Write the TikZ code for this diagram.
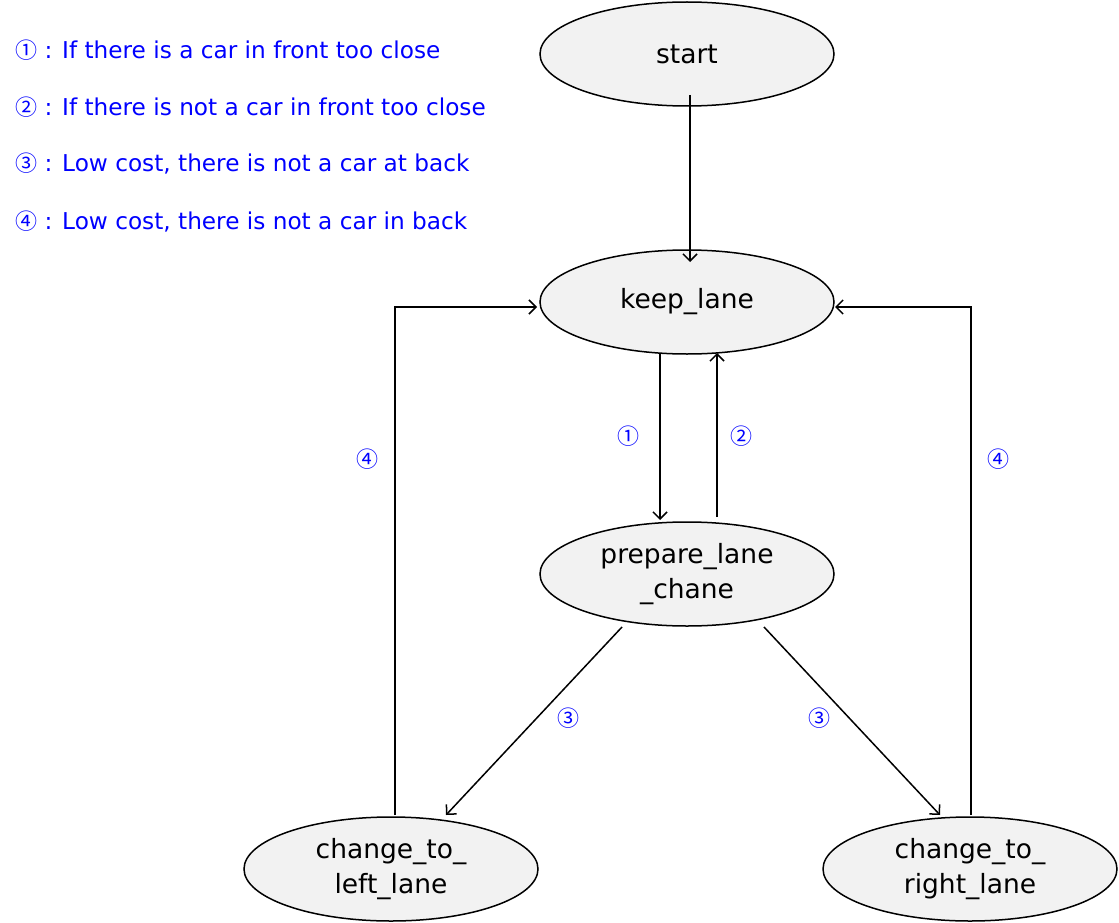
\documentclass[tikz,border=0pt]{standalone}
\usepackage{fontspec}
\setmainfont{DejaVu Sans}
\newfontfamily\circfont{Noto Sans CJK KR}
\usetikzlibrary{shapes.geometric,arrows.meta}
\begin{document}
\begin{tikzpicture}[x=1pt,y=-1pt,
  state/.style={ellipse,draw=black,line width=1.5pt,fill=black!5,minimum width=294pt,minimum height=104pt,inner sep=0pt,align=center,font=\fontsize{26.5}{35}\selectfont},
  conn/.style={line width=1.5pt,-{Straight Barb[length=7pt,width=14pt,line width=1.5pt]}},
  lbl/.style={text=blue,font=\circfont\fontsize{22}{25}\selectfont},
  legend/.style={text=blue,anchor=west,inner sep=0pt,font=\fontsize{23.2}{26}\selectfont}]
\useasboundingbox (0,0) rectangle (1119,923);
\node[state] (start) at (687,54) {start};
\node[state] (keep) at (687,302) {keep\_lane};
\node[state] (prep) at (687,574) {prepare\_lane\\\_chane};
\node[state] (left) at (391,869) {change\_to\_\\left\_lane};
\node[state] (right) at (970,869) {change\_to\_\\right\_lane};
\node[legend] (l1) at (15,50) {{\circfont\fontsize{22}{25}\selectfont ①} : If there is a car in front too close};
\node[legend] (l2) at (15,107) {{\circfont\fontsize{22}{25}\selectfont ②} : If there is not a car in front too close};
\node[legend] (l3) at (15,164) {{\circfont\fontsize{22}{25}\selectfont ③} : Low cost, there is not a car at back};
\node[legend] (l4) at (15,222) {{\circfont\fontsize{22}{25}\selectfont ④} : Low cost, there is not a car in back};
\draw[conn] ([shift={(3,41)}]start.center) -- ([shift={(3,-40)}]keep.center);
\draw[conn] ([shift={(-27,52)}]keep.center) -- ([shift={(-27,-54)}]prep.center);
\draw[conn] ([shift={(30,-57)}]prep.center) -- ([shift={(30,51)}]keep.center);
\draw[conn] ([shift={(-65,53)}]prep.center) -- ([shift={(55,-54)}]left.center);
\draw[conn] ([shift={(77,53)}]prep.center) -- ([shift={(-30,-54)}]right.center);
\draw[conn] ([shift={(4,-54)}]left.center) |- ([shift={(-150,5)}]keep.center);
\draw[conn] ([shift={(1,-54)}]right.center) |- ([shift={(148,5)}]keep.center);
\node[lbl] (c1) at (628,436) {①};
\node[lbl] (c2) at (741,436) {②};
\node[lbl] (c3a) at (568,718) {③};
\node[lbl] (c3b) at (819,718) {③};
\node[lbl] (c4a) at (367,459) {④};
\node[lbl] (c4b) at (998,459) {④};
\end{tikzpicture}
\end{document}
